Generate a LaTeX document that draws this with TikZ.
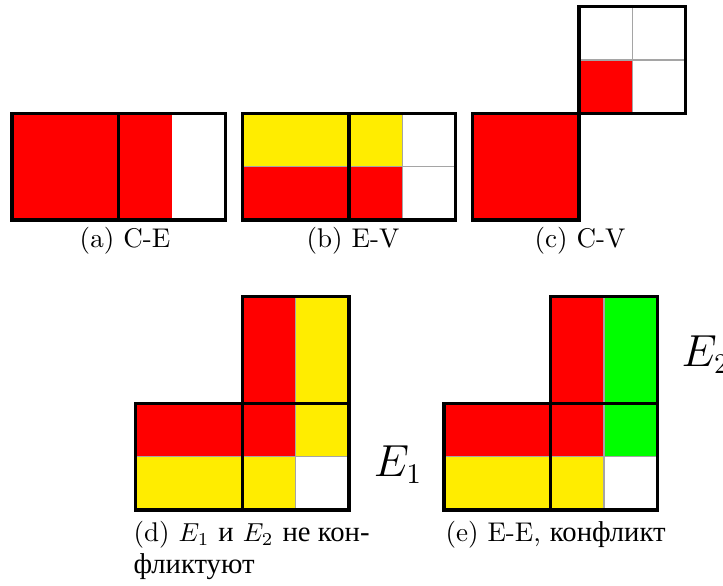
\documentclass[tikz,border=0pt]{standalone}
\usepackage{fontspec}
\newfontfamily\cyr[Scale=1.06]{Liberation Serif}
\definecolor{cred}{RGB}{255,0,0}
\definecolor{cyel}{RGB}{255,237,0}
\definecolor{cgrn}{RGB}{0,255,0}
\definecolor{cgry}{RGB}{165,165,165}
\tikzset{
  sqbox/.style={draw=black,line width=1.25pt},
  gline/.style={draw=cgry,line width=0.45pt},
  captxt/.style={inner sep=0pt,font=\fontsize{10.4}{12.5}\selectfont},
  biglab/.style={inner sep=0pt,font=\fontsize{16}{19}\selectfont}
}
\begin{document}
\begin{tikzpicture}[x=0.3846pt,y=-0.3846pt]
\useasboundingbox (0,0) rectangle (723,586);
% ---------- (a) C-E
\fill[cred] (12,113.3) rectangle (172.05,220);
\draw[sqbox] (12,113.3) rectangle (118.7,220);
\draw[sqbox] (118.7,113.3) rectangle (225.4,220);
\node[captxt] (capa) at (125,241) {(a) C-E};
% ---------- (b) E-V
\fill[cyel] (242.3,113.3) rectangle (402.35,166.65);
\fill[cred] (242.3,166.65) rectangle (402.35,220);
\draw[gline] (242.3,166.65) -- (455.7,166.65);
\draw[gline] (402.35,113.3) -- (402.35,220);
\draw[sqbox] (242.3,113.3) rectangle (349,220);
\draw[sqbox] (349,113.3) rectangle (455.7,220);
\node[captxt] (capb) at (353,241) {(b) E-V};
% ---------- (c) C-V
\fill[cred] (472.3,113.3) rectangle (579,220);
\fill[cred] (579,59.95) rectangle (632.35,113.3);
\draw[gline] (579,59.95) -- (685.7,59.95);
\draw[gline] (632.35,6.6) -- (632.35,113.3);
\draw[sqbox] (472.3,113.3) rectangle (579,220);
\draw[sqbox] (579,6.6) rectangle (685.7,113.3);
\node[captxt] (capc) at (580,241) {(c) C-V};
% ---------- (d)
\fill[cred] (135.7,403.3) rectangle (295.75,456.65);
\fill[cred] (242.4,296.6) rectangle (295.75,403.3);
\fill[cyel] (135.7,456.65) rectangle (295.75,510);
\fill[cyel] (295.75,296.6) rectangle (349.1,456.65);
\draw[gline] (135.7,456.65) -- (349.1,456.65);
\draw[gline] (295.75,296.6) -- (295.75,510);
\draw[sqbox] (135.7,403.3) rectangle (242.4,510);
\draw[sqbox] (242.4,403.3) rectangle (349.1,510);
\draw[sqbox] (242.4,296.6) rectangle (349.1,403.3);
\node[biglab] (e1) at (398,465) {$E_1$};
\node[captxt,anchor=base west] (capd1) at (133,542) {(d) $E_1$ {\cyr и} $E_2$ {\cyr не кон-}};
\node[captxt,anchor=base west] (capd2) at (133,574) {\cyr фликтуют};
% ---------- (e)
\fill[cred] (444,403.3) rectangle (604.05,456.65);
\fill[cred] (550.7,296.6) rectangle (604.05,403.3);
\fill[cyel] (444,456.65) rectangle (604.05,510);
\fill[cgrn] (604.05,296.6) rectangle (657.4,456.65);
\draw[gline] (444,456.65) -- (657.4,456.65);
\draw[gline] (604.05,296.6) -- (604.05,510);
\draw[sqbox] (444,403.3) rectangle (550.7,510);
\draw[sqbox] (550.7,403.3) rectangle (657.4,510);
\draw[sqbox] (550.7,296.6) rectangle (657.4,403.3);
\node[biglab,anchor=west] (e2) at (681,355) {$E_2$};
\node[captxt,anchor=base west] (cape) at (445,542) {(e) E-E, {\cyr конфликт}};
\end{tikzpicture}
\end{document}
